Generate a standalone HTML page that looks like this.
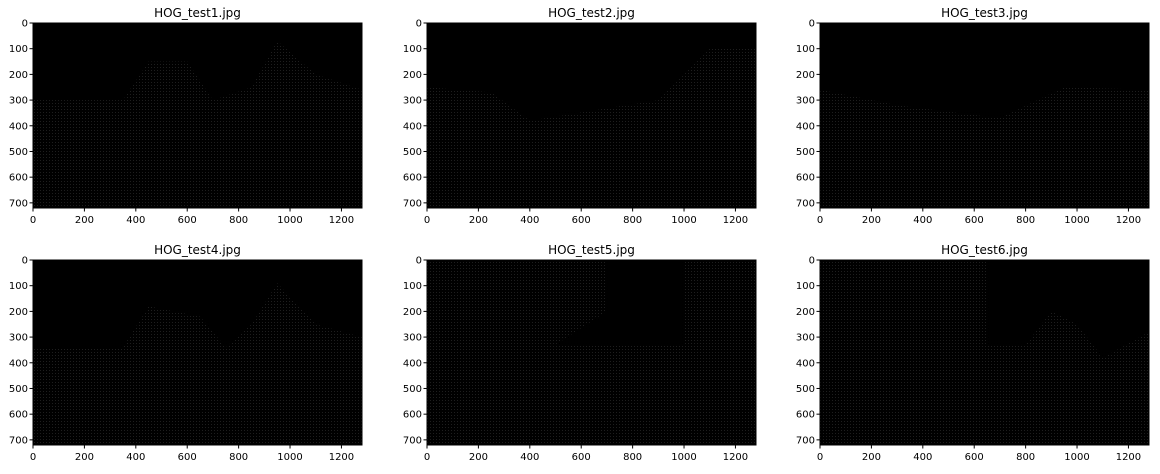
<!DOCTYPE html>
<html><head><meta charset="utf-8">
<style>
body{margin:0;background:#fff;width:1160px;height:469px;overflow:hidden}
svg text{font-family:"DejaVu Sans","Liberation Sans",sans-serif;fill:#000}
</style></head>
<body>
<svg id="fig" width="1160" height="469" xmlns="http://www.w3.org/2000/svg">
<defs>
<pattern id="dots" width="3" height="3" patternUnits="userSpaceOnUse">
<rect width="3" height="3" fill="#000"/>
<rect x="1" y="1" width="1" height="1" fill="#1e1e1e"/>
</pattern>
</defs>
</svg>
<script>
const titles=["HOG_test1.jpg","HOG_test2.jpg","HOG_test3.jpg","HOG_test4.jpg","HOG_test5.jpg","HOG_test6.jpg"];
const xTicks=[0,200,400,600,800,1000,1200];
const yTicks=[0,100,200,300,400,500,600,700];
const imgW=1280, imgH=720;
// textured (dense-gradient) regions per image, in image pixel coords
const regions=[
 [[0,300],[350,300],[450,150],[600,150],[700,300],[850,250],[950,70],[1100,200],[1280,260],[1280,720],[0,720]],
 [[0,250],[250,270],[400,380],[900,300],[1100,100],[1280,100],[1280,720],[0,720]],
 [[0,260],[300,320],[700,370],[950,250],[1280,260],[1280,720],[0,720]],
 [[0,340],[350,340],[450,180],[650,220],[750,340],[850,250],[950,90],[1100,250],[1280,300],[1280,720],[0,720]],
 [[0,0],[700,0],[700,200],[500,330],[1000,330],[1000,0],[1280,0],[1280,720],[0,720]],
 [[0,0],[650,0],[650,330],[800,330],[900,200],[1000,250],[1100,380],[1280,280],[1280,720],[0,720]]
];
const colX=[33,427,820], rowY=[23,260], axW=329, axH=185;
const svg=document.getElementById('fig');
const NS="http://www.w3.org/2000/svg";
function mk(t,a,p){const e=document.createElementNS(NS,t);for(const k in a)e.setAttribute(k,a[k]);p.appendChild(e);return e;}
titles.forEach((ttl,i)=>{
 const x0=colX[i%3], y0=rowY[Math.floor(i/3)];
 const sx=v=>x0+v*axW/imgW, sy=v=>y0+v*axH/imgH;
 const g=mk('g',{},svg);
 
 
 const bg=mk('rect',{x:x0,y:y0,width:axW,height:axH,fill:'#000'},g);
 
 
 const pts=regions[i].map(p=>sx(p[0])+','+sy(p[1])).join(' ');
 const pg=mk('polygon',{points:pts,fill:'url(#dots)'},g);
 
 
 const fr=mk('rect',{x:x0,y:y0,width:axW,height:axH,fill:'none',stroke:'#000','stroke-width':1},g);
 
 
 const t=mk('text',{x:x0+axW/2,y:y0-6,'text-anchor':'middle','font-size':12},g);
 t.textContent=ttl;
 
 
 xTicks.forEach(v=>{
  const X=sx(v);
  mk('line',{x1:X,x2:X,y1:y0+axH,y2:y0+axH+3.5,stroke:'#000'},g);
  const tx=mk('text',{x:X,y:y0+axH+15,'text-anchor':'middle','font-size':10},g);
  tx.textContent=v;
  
  
 });
 yTicks.forEach(v=>{
  const Y=sy(v);
  mk('line',{x1:x0-3.5,x2:x0,y1:Y,y2:Y,stroke:'#000'},g);
  const ty=mk('text',{x:x0-5,y:Y+3.5,'text-anchor':'end','font-size':10},g);
  ty.textContent=v;
  
  
 });
});
</script>
</body></html>
